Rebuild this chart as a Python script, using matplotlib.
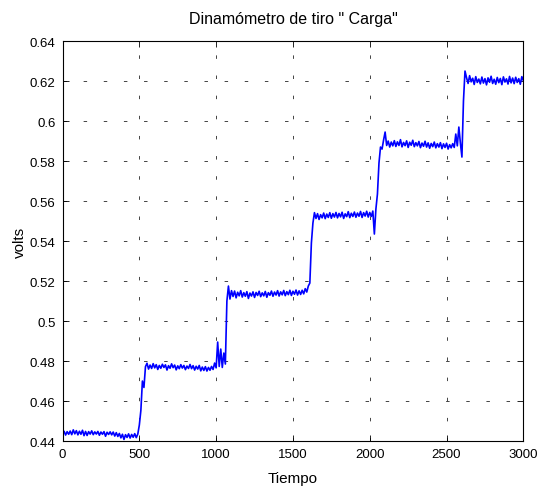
#!/usr/bin/env python
"""Dinamometro de tiro: senal de carga (volts) contra tiempo."""

import matplotlib

matplotlib.use("Agg")
import matplotlib.pyplot as plt
import numpy as np

# muestras leidas cada 10 unidades de tiempo (0 ... 3000)
PASO = 10
CARGA = [
    0.4440, 0.4449, 0.4430, 0.4447, 0.4434, 0.4450, 0.4432, 0.4456, 0.4436, 0.4452,
    0.4431, 0.4449, 0.4434, 0.4454, 0.4427, 0.4448, 0.4428, 0.4447, 0.4435, 0.4451,
    0.4432, 0.4446, 0.4435, 0.4448, 0.4429, 0.4445, 0.4434, 0.4447, 0.4424, 0.4444,
    0.4433, 0.4446, 0.4431, 0.4445, 0.4425, 0.4442, 0.4423, 0.4438, 0.4416, 0.4434,
    0.4408, 0.4432, 0.4418, 0.4436, 0.4415, 0.4433, 0.4419, 0.4437, 0.4417, 0.4435,
    0.4480, 0.4553, 0.4700, 0.4668, 0.4772, 0.4789, 0.4760, 0.4780, 0.4763, 0.4787,
    0.4766, 0.4782, 0.4758, 0.4778, 0.4764, 0.4784, 0.4768, 0.4781, 0.4755, 0.4777,
    0.4764, 0.4786, 0.4767, 0.4780, 0.4756, 0.4776, 0.4762, 0.4782, 0.4765, 0.4778,
    0.4757, 0.4775, 0.4763, 0.4783, 0.4762, 0.4777, 0.4755, 0.4774, 0.4760, 0.4778,
    0.4751, 0.4770, 0.4753, 0.4772, 0.4750, 0.4768, 0.4754, 0.4773, 0.4758, 0.4790,
    0.4766, 0.4895, 0.4773, 0.4860, 0.4768, 0.4840, 0.4785, 0.5100, 0.5175, 0.5110,
    0.5152, 0.5123, 0.5150, 0.5116, 0.5144, 0.5126, 0.5152, 0.5120, 0.5142, 0.5124,
    0.5147, 0.5113, 0.5140, 0.5125, 0.5146, 0.5118, 0.5143, 0.5128, 0.5149, 0.5122,
    0.5141, 0.5126, 0.5148, 0.5119, 0.5142, 0.5129, 0.5150, 0.5124, 0.5145, 0.5130,
    0.5152, 0.5125, 0.5146, 0.5131, 0.5153, 0.5127, 0.5147, 0.5132, 0.5154, 0.5128,
    0.5149, 0.5134, 0.5155, 0.5130, 0.5151, 0.5133, 0.5154, 0.5136, 0.5162, 0.5145,
    0.5175, 0.5190, 0.5390, 0.5490, 0.5542, 0.5513, 0.5537, 0.5508, 0.5532, 0.5516,
    0.5540, 0.5512, 0.5535, 0.5518, 0.5542, 0.5514, 0.5537, 0.5520, 0.5543, 0.5516,
    0.5538, 0.5521, 0.5544, 0.5513, 0.5536, 0.5522, 0.5547, 0.5517, 0.5539, 0.5523,
    0.5545, 0.5519, 0.5540, 0.5524, 0.5548, 0.5518, 0.5542, 0.5525, 0.5549, 0.5520,
    0.5543, 0.5523, 0.5550, 0.5435, 0.5560, 0.5635, 0.5790, 0.5870, 0.5860, 0.5905,
    0.5945, 0.5878, 0.5900, 0.5870, 0.5895, 0.5876, 0.5902, 0.5873, 0.5896, 0.5878,
    0.5907, 0.5871, 0.5893, 0.5877, 0.5901, 0.5868, 0.5894, 0.5879, 0.5904, 0.5872,
    0.5892, 0.5876, 0.5898, 0.5867, 0.5890, 0.5874, 0.5899, 0.5870, 0.5891, 0.5864,
    0.5888, 0.5872, 0.5895, 0.5866, 0.5887, 0.5870, 0.5892, 0.5862, 0.5886, 0.5868,
    0.5889, 0.5860, 0.5882, 0.5866, 0.5887, 0.5868, 0.5935, 0.5876, 0.5970, 0.5890,
    0.5820, 0.6100, 0.6250, 0.6217, 0.6188, 0.6227, 0.6196, 0.6214, 0.6183, 0.6222,
    0.6193, 0.6210, 0.6186, 0.6220, 0.6190, 0.6212, 0.6181, 0.6216, 0.6194, 0.6224,
    0.6188, 0.6209, 0.6184, 0.6218, 0.6192, 0.6213, 0.6182, 0.6221, 0.6195, 0.6211,
    0.6185, 0.6223, 0.6191, 0.6215, 0.6187, 0.6219, 0.6193, 0.6212, 0.6184, 0.6222,
    0.6202,
]

X_TICKS = [0, 500, 1000, 1500, 2000, 2500, 3000]
Y_TICKS = [0.44, 0.46, 0.48, 0.5, 0.52, 0.54, 0.56, 0.58, 0.6, 0.62, 0.64]
Y_TICK_LABELS = ["0.44", "0.46", "0.48", "0.5", "0.52", "0.54", "0.56", "0.58", "0.6", "0.62", "0.64"]

TITLE = 'Dinamómetro de tiro " Carga"'


def setup_matplotlib() -> None:
    plt.rcParams.update(
        {
            "font.family": ["Liberation Sans", "DejaVu Sans"],
            "font.size": 9.5,
            "figure.facecolor": "white",
            "axes.facecolor": "white",
            "axes.linewidth": 0.8,
            "xtick.direction": "in",
            "ytick.direction": "in",
            "xtick.top": True,
            "ytick.right": True,
            "xtick.major.size": 4.5,
            "ytick.major.size": 4.5,
            "xtick.major.width": 0.6,
            "ytick.major.width": 0.6,
            "lines.scale_dashes": False,
        }
    )


def main() -> None:
    setup_matplotlib()
    carga = np.asarray(CARGA)
    tiempo = np.arange(len(carga)) * PASO

    fig = plt.figure(figsize=(5.39, 4.89), dpi=100)
    ax = fig.add_axes([0.116, 0.096, 0.855, 0.818])

    ax.plot(tiempo, carga, color=(0, 0, 1), linewidth=1.2)

    ax.set_xlim(X_TICKS[0], X_TICKS[-1])
    ax.set_ylim(Y_TICKS[0], Y_TICKS[-1])
    ax.set_xticks(X_TICKS)
    ax.set_yticks(Y_TICKS)
    ax.set_yticklabels(Y_TICK_LABELS)
    ax.tick_params(pad=5)
    ax.grid(True, color="0.15", linestyle=(0, (2.5, 12)), linewidth=0.6)

    ax.set_title(TITLE, fontsize=11.5, pad=13)
    ax.set_xlabel("Tiempo", fontsize=11, labelpad=8)
    ax.set_ylabel("volts", fontsize=11, labelpad=2)

    fig.savefig("out.png", dpi=100)
    plt.close(fig)


if __name__ == "__main__":
    main()
